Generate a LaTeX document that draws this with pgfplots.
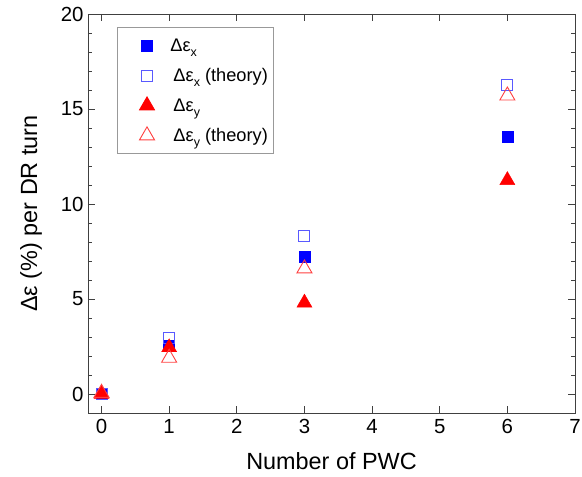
\documentclass[border=0pt]{standalone}
\usepackage{pgfplots}
\pgfplotsset{compat=1.18}
\usepackage{fontspec}
\setmainfont{Liberation Sans}
\newcommand\sub[1]{\raisebox{-0.55ex}{\fontsize{12.5}{12.5}\selectfont #1}}
\begin{document}
\begin{tikzpicture}
\begin{axis}[
  scale only axis,
  width=487bp, height=399bp,
  xmin=-0.2, xmax=7, ymin=-1, ymax=20,
  xtick={0,1,2,3,4,5,6,7},
  xticklabels={0,1,2,3,4,5,6,7},
  ytick={0,5,10,15,20},
  yticklabels={0,5,10,15,20},
  minor y tick num=4,
  tick align=inside,
  major tick length=7bp, minor tick length=4bp,
  ticklabel style={font=\fontsize{20.5}{24}\selectfont},
  xticklabel style={yshift=-3bp},
  yticklabel style={xshift=-1bp},
  label style={font=\fontsize{23.5}{28}\selectfont},
  xlabel={Number of PWC},
  ylabel={Δε (\%) per DR turn},
  xlabel style={yshift=-12bp},
  ylabel style={yshift=12bp},
  axis line style={line width=0.9bp, black!75},
  every tick/.style={line width=0.9bp, black!75},
  legend style={at={(0.06,0.967)}, anchor=north west, draw=black!40, line width=0.8bp,
    font=\fontsize{18.3}{22}\selectfont, row sep=6bp, inner xsep=4bp, inner ysep=6bp,
    nodes={inner sep=2bp, minimum height=24bp}},
  legend image code/.code={\path (0bp,0bp) (46bp,0bp); \draw[#1] plot coordinates {(25bp,0bp)};},
  legend cell align=left,
]
\addplot[only marks, mark=square*, mark size=5.5bp, blue, mark options={fill=blue, draw=blue}]
  coordinates {(0,0) (1,2.55) (3,7.23) (6,13.53)};
\addlegendentry{Δε\sub{x}}
\addplot[only marks, mark=square, mark size=5.5bp, mark options={draw=blue!65, line width=1bp, fill=none}]
  coordinates {(0,0) (1,2.97) (3,8.34) (6,16.25)};
\addlegendentry{\,Δε\sub{x} (theory)}
\addplot[only marks, mark=triangle*, mark size=8.7bp, mark options={fill=red, draw=red}]
  coordinates {(0,0) (1,2.45) (3,4.8) (6,11.25)};
\addlegendentry{\,Δε\sub{y}}
\addplot[only marks, mark=triangle, mark size=8.7bp, mark options={draw=red!75, line width=0.9bp, fill=none}]
  coordinates {(0,0.05) (1,1.9) (3,6.6) (6,15.7)};
\addlegendentry{\,Δε\sub{y} (theory)}
\end{axis}
\pgfresetboundingbox
\path[use as bounding box] ([shift={(-88bp,-64bp)}]current axis.south west) rectangle ([shift={(7bp,14bp)}]current axis.north east);
\end{tikzpicture}
\end{document}
